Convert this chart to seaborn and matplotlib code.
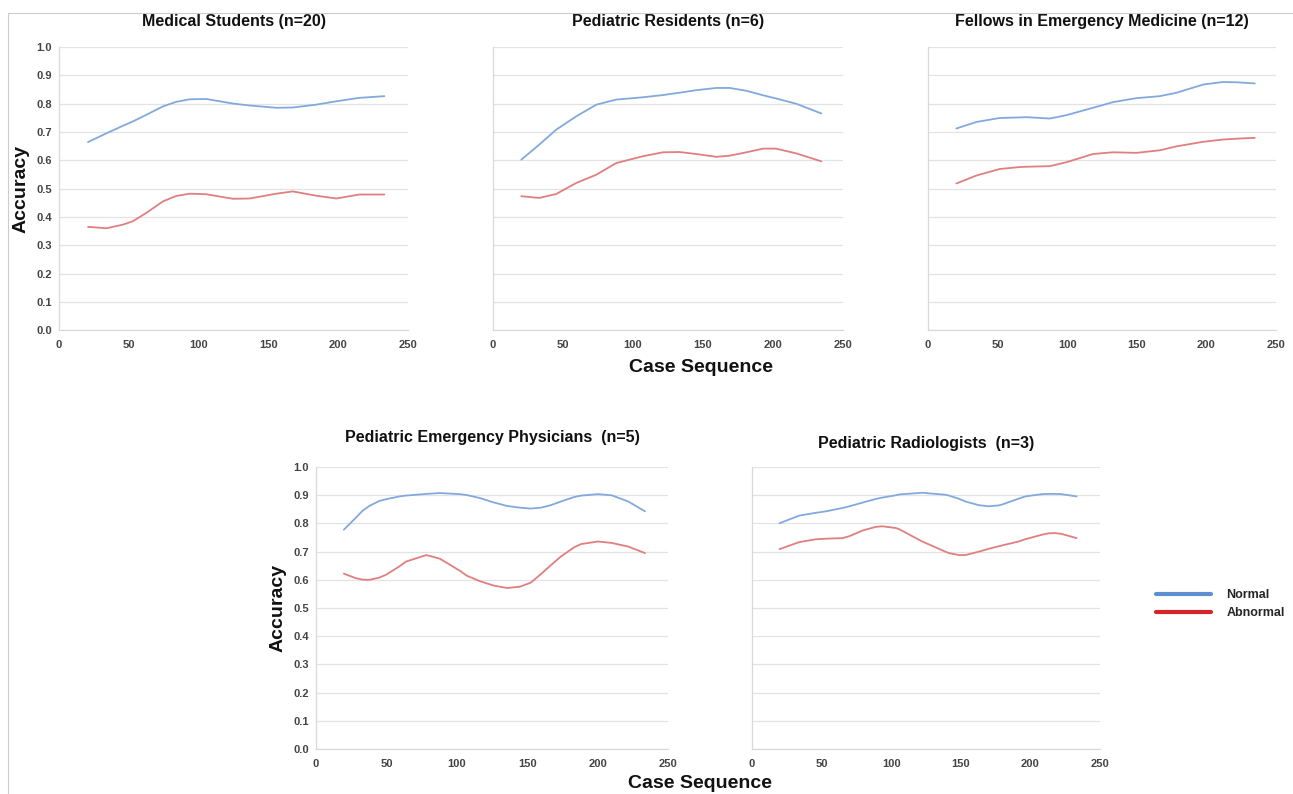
import matplotlib
matplotlib.use("Agg")
import matplotlib.pyplot as plt
from matplotlib.lines import Line2D
import seaborn as sns
import pandas as pd

# ---------------- data ----------------
ms_x        = [20.8, 34, 46, 53, 62.5, 74.5, 84, 93.6, 105.5, 124.6, 136.6, 155.7, 167.5, 184, 198.7, 215, 233]
ms_normal   = [0.664, 0.695, 0.722, 0.737, 0.760, 0.790, 0.806, 0.815, 0.816, 0.800, 0.793, 0.785, 0.786, 0.796, 0.808, 0.820, 0.826]
ms_abnormal = [0.365, 0.360, 0.373, 0.385, 0.414, 0.455, 0.474, 0.482, 0.480, 0.464, 0.465, 0.482, 0.490, 0.475, 0.465, 0.479, 0.479]

pr_x        = [20.2, 33, 45.2, 59.5, 73.8, 88, 107, 121.4, 133, 145, 159.5, 169, 181, 193, 202, 216.7, 234.5]
pr_normal   = [0.602, 0.655, 0.708, 0.755, 0.796, 0.814, 0.822, 0.830, 0.838, 0.847, 0.855, 0.855, 0.845, 0.829, 0.818, 0.799, 0.765]
pr_abnormal = [0.473, 0.467, 0.481, 0.520, 0.549, 0.590, 0.614, 0.628, 0.629, 0.622, 0.612, 0.616, 0.628, 0.641, 0.641, 0.624, 0.596]

fe_x        = [20.4, 34.8, 51.5, 65.9, 70.7, 87.5, 99.5, 118.6, 133, 149.8, 166.6, 178.6, 197.8, 212, 221.7, 234.9]
fe_normal   = [0.712, 0.735, 0.749, 0.751, 0.752, 0.747, 0.759, 0.785, 0.805, 0.819, 0.826, 0.838, 0.867, 0.876, 0.875, 0.871]
fe_abnormal = [0.518, 0.546, 0.569, 0.576, 0.577, 0.579, 0.593, 0.622, 0.628, 0.626, 0.635, 0.649, 0.665, 0.673, 0.676, 0.679]

pe_x        = [19.8, 28.2, 33, 37.8, 45, 49.7, 59.3, 64, 78.4, 88, 102.3, 107, 116.6, 126, 135.8, 145, 152.5, 159.7, 166.8, 174, 183.5, 188.3, 200.3, 210, 221.8, 233.7]
pe_normal   = [0.778, 0.820, 0.845, 0.862, 0.880, 0.886, 0.896, 0.899, 0.905, 0.908, 0.904, 0.901, 0.890, 0.875, 0.862, 0.856, 0.853, 0.856, 0.865, 0.878, 0.894, 0.899, 0.904, 0.900, 0.878, 0.843]
pe_abnormal = [0.622, 0.606, 0.601, 0.600, 0.608, 0.618, 0.648, 0.665, 0.688, 0.675, 0.632, 0.615, 0.595, 0.580, 0.571, 0.576, 0.590, 0.620, 0.652, 0.683, 0.716, 0.727, 0.736, 0.731, 0.718, 0.695]

pd_x        = [19.8, 34, 46, 53, 65, 70, 79.4, 89, 93.7, 103.3, 105.7, 122.4, 139, 141.5, 148.6, 153.4, 163, 170, 177.2, 179.6, 191.6, 196.3, 208.3, 213, 217.8, 222.6, 233.3]
pd_normal   = [0.801, 0.828, 0.838, 0.843, 0.855, 0.861, 0.874, 0.887, 0.892, 0.900, 0.903, 0.909, 0.902, 0.899, 0.888, 0.878, 0.865, 0.861, 0.864, 0.867, 0.888, 0.896, 0.904, 0.905, 0.905, 0.904, 0.896]
pd_abnormal = [0.709, 0.734, 0.744, 0.746, 0.748, 0.755, 0.775, 0.788, 0.790, 0.784, 0.780, 0.736, 0.700, 0.695, 0.688, 0.688, 0.700, 0.710, 0.719, 0.722, 0.736, 0.744, 0.760, 0.765, 0.766, 0.763, 0.748]

titles = ["Medical Students (n=20)", "Pediatric Residents (n=6)",
          "Fellows in Emergency Medicine (n=12)",
          "Pediatric Emergency Physicians  (n=5)", "Pediatric Radiologists  (n=3)"]
series_labels = ["Normal", "Abnormal"]
x_ticks = [0, 50, 100, 150, 200, 250]
y_ticks = [0.0, 0.1, 0.2, 0.3, 0.4, 0.5, 0.6, 0.7, 0.8, 0.9, 1.0]

panels = [(ms_x, ms_normal, ms_abnormal), (pr_x, pr_normal, pr_abnormal),
          (fe_x, fe_normal, fe_abnormal), (pe_x, pe_normal, pe_abnormal),
          (pd_x, pd_normal, pd_abnormal)]

# ---------------- style ----------------
sns.set_theme(style="white")
plt.rcParams['font.family'] = ['Liberation Sans', 'DejaVu Sans']

line_colors = {"Normal": "#82a9de", "Abnormal": "#e07f7f"}
legend_colors = {"Normal": "#5b8fd0", "Abnormal": "#d42626"}

fig = plt.figure(figsize=(12.93, 7.94), dpi=100)

# axes rectangles [left, bottom, width, height] in figure fraction
rects = [
    [0.0456, 0.584, 0.270, 0.357],
    [0.3813, 0.584, 0.2707, 0.357],
    [0.7177, 0.584, 0.269, 0.357],
    [0.2444, 0.0567, 0.2722, 0.355],
    [0.5816, 0.0567, 0.269, 0.355],
]
title_pads = [15, 15, 15, 18, 14]

for i, (rect, (xs, nrm, abn)) in enumerate(zip(rects, panels)):
    ax = fig.add_axes(rect)
    df = pd.DataFrame({
        "Case Sequence": list(xs) * 2,
        "Accuracy": list(nrm) + list(abn),
        "Type": ["Normal"] * len(xs) + ["Abnormal"] * len(xs),
    })
    sns.lineplot(data=df, x="Case Sequence", y="Accuracy", hue="Type",
                 palette=line_colors, linewidth=1.3, legend=False, ax=ax,
                 sort=True)
    ax.set_xlim(0, 250)
    ax.set_ylim(0, 1.0)
    ax.set_xticks(x_ticks)
    ax.set_yticks(y_ticks)
    ax.set_xticklabels([str(t) for t in x_ticks], fontsize=8, fontweight="bold", color="#444444")
    if i in (0, 3):
        ax.set_yticklabels([f"{t:.1f}" for t in y_ticks], fontsize=8, fontweight="bold", color="#444444")
        ax.set_ylabel("Accuracy", fontsize=14, fontweight="bold", color="#111111", labelpad=5)
    else:
        ax.set_yticklabels([])
        ax.set_ylabel("")
    ax.set_xlabel("")
    ax.tick_params(axis="x", length=0, pad=7)
    ax.tick_params(axis="y", length=0, pad=5)
    ax.grid(axis="y", color="#e3e3e3", linewidth=0.9)
    ax.grid(axis="x", visible=False)
    for s in ("top", "right"):
        ax.spines[s].set_visible(False)
    for s in ("left", "bottom"):
        ax.spines[s].set_color("#d9d9d9")
        ax.spines[s].set_linewidth(0.9)
    ax.set_title(titles[i], fontsize=11.5, fontweight="bold", color="#111111", pad=title_pads[i])

# axis labels for x
fig.text(0.5425, 0.537, "Case Sequence", ha="center", va="center",
         fontsize=14, fontweight="bold", color="#111111")
fig.text(0.5415, 0.013, "Case Sequence", ha="center", va="center",
         fontsize=14, fontweight="bold", color="#111111")

# legend
handles = [Line2D([0], [0], color=legend_colors[k], linewidth=3) for k in series_labels]
fig.legend(handles, series_labels, loc="center", bbox_to_anchor=(0.944, 0.239),
           frameon=False, prop={"size": 9, "weight": "bold"},
           handlelength=4.4, labelspacing=0.45, handletextpad=1.2)

# thin frame lines of the original image
fig.add_artist(Line2D([0.006, 1.0], [0.984, 0.984], color="#cccccc", linewidth=0.8,
                      transform=fig.transFigure))
fig.add_artist(Line2D([0.006, 0.006], [0.0, 0.984], color="#cccccc", linewidth=0.8,
                      transform=fig.transFigure))

fig.savefig("out.png", dpi=100)
